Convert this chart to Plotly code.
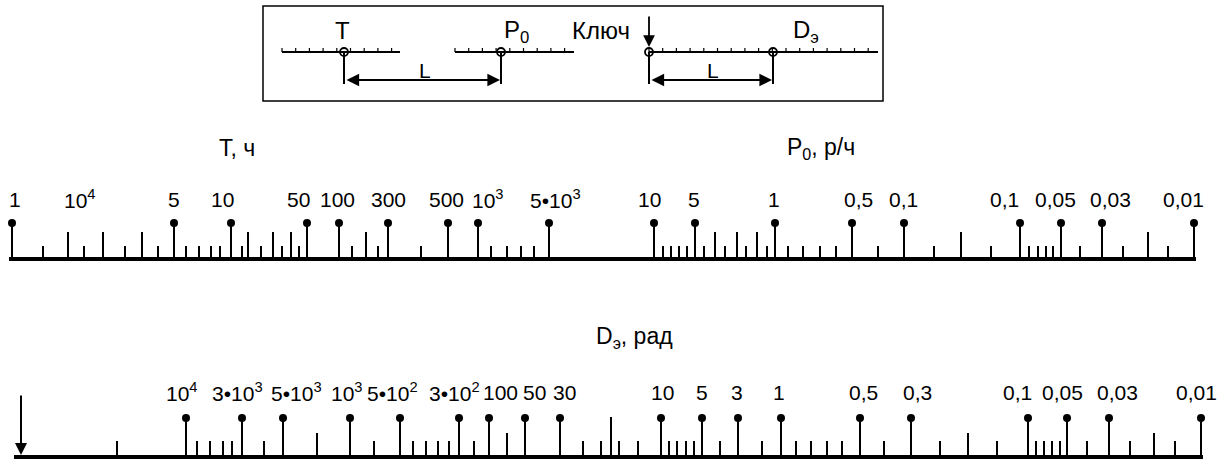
import plotly.graph_objects as go
import numpy as np

W, H = 1217, 459
FONT = "Liberation Sans, Arial, sans-serif"

# ---------------- data: scale positions (along the nomogram line) and labels ----------------
# top row : T scale (hours) followed by P0 scale (р/ч)
top_major_pos = [12, 174, 231, 307, 339, 388, 448, 478, 549,
                 654, 695, 775, 852, 904, 1020, 1061, 1102, 1194]
top_major_lbl = ["1", "5", "10", "50", "100", "300", "500", "10<sup>3</sup>", "5•10<sup>3</sup>",
                 "10", "5", "1", "0,5", "0,1", "0,1", "0,05", "0,03", "0,01"]
top_tall_pos = [68, 103, 142, 248, 273, 291, 366, 715, 737, 757, 961, 1148]
top_tall_lbl_pos = [68]
top_tall_lbl = ["10<sup>4</sup>"]
top_short_pos = [43, 84, 125, 158, 186, 199, 211, 220, 242, 261, 282, 299, 352, 378,
                 421, 491, 507, 521, 534, 663, 671, 679, 687, 704, 725, 746, 767, 788,
                 803, 820, 836, 878, 934, 991, 1029, 1038, 1046, 1053, 1080, 1123, 1168]

# bottom row : Dэ scale (рад)
bot_major_pos = [186, 242, 283, 350, 400, 459, 489, 525, 560,
                 661, 702, 738, 781, 860, 911, 1028, 1067, 1109, 1201]
bot_major_lbl = ["10<sup>4</sup>", "3•10<sup>3</sup>", "5•10<sup>3</sup>", "10<sup>3</sup>",
                 "5•10<sup>2</sup>", "3•10<sup>2</sup>", "100", "50", "30",
                 "10", "5", "3", "1", "0,5", "0,3", "0,1", "0,05", "0,03", "0,01"]
bot_tall_pos = [317, 507, 968, 1154]
bot_xtall_pos = [611]
bot_short_pos = [117, 197, 210, 223, 232, 264, 374, 413, 426, 438, 449, 474, 583, 601,
                 619, 638, 669, 677, 686, 694, 720, 762, 796, 811, 827, 842, 884, 940,
                 997, 1036, 1044, 1052, 1060, 1087, 1130, 1175]
key_pos = [21]

# ---------------- layout constants (label nudges, row geometry) ----------------
top_lbl_dx = [3, 0, -9, -9, -2, 0, -2, 10, 6, -5, -1, -1, 6, -1, -16, -6, 8, -11]
top_tall_lbl_dx = [12]
bot_lbl_dx = [-4, -5, 13, -3, -8, -5, 11, 9, 4, 1, 0, -1, -2, 3, 6, -11, -5, 8, -5]

TOP = dict(base=259, short=246, tall=232, major=223, lbl=199, x0=9, x1=1196)
BOT = dict(base=457, short=441, tall=433, major=418, lbl=392, x0=14, x1=1203)


def stems(pos, y0, y1):
    xs, ys = [], []
    for p in pos:
        xs += [p, p, None]
        ys += [y0, y1, None]
    return xs, ys


fig = go.Figure()
line_style = dict(color="black", width=2)


def add_row(R, major, tall, short, xtall=()):
    fig.add_trace(go.Scatter(x=[R["x0"], R["x1"]], y=[R["base"], R["base"]], mode="lines",
                             line=dict(color="black", width=4), hoverinfo="skip"))
    for pos, top in ((short, R["short"]), (tall, R["tall"]), (list(xtall), R["major"] - 1),
                     (major, R["major"])):
        if not pos:
            continue
        xs, ys = stems(pos, R["base"], top)
        fig.add_trace(go.Scatter(x=xs, y=ys, mode="lines", line=line_style, hoverinfo="skip"))
    fig.add_trace(go.Scatter(x=major, y=[R["major"]] * len(major), mode="markers",
                             marker=dict(color="black", size=8), hoverinfo="skip"))


add_row(TOP, top_major_pos, top_tall_pos, top_short_pos)
add_row(BOT, bot_major_pos, bot_tall_pos, bot_short_pos, bot_xtall_pos)

ann = []


def label(x, y, text, size=21, xanchor="center"):
    ann.append(dict(x=x, y=y, text=text, showarrow=False, xanchor=xanchor, yanchor="middle",
                    font=dict(family=FONT, size=size, color="black")))


for p, t, d in zip(top_major_pos, top_major_lbl, top_lbl_dx):
    label(p + d, TOP["lbl"], t)
for p, t, d in zip(top_tall_lbl_pos, top_tall_lbl, top_tall_lbl_dx):
    label(p + d, TOP["lbl"], t)
for p, t, d in zip(bot_major_pos, bot_major_lbl, bot_lbl_dx):
    label(p + d, BOT["lbl"], t)

# scale titles
label(237, 148, "T, ч", 23)
label(821, 148, "P<sub>0</sub>, р/ч", 23)
label(634, 337, "D<sub>э</sub>, рад", 23)

# key arrow on the Dэ scale
for k in key_pos:
    ann.append(dict(x=k, y=BOT["base"] - 2, ax=k, ay=394, axref="x", ayref="y", xref="x", yref="y",
                    showarrow=True, arrowhead=2, arrowsize=1.2, arrowwidth=2, arrowcolor="black",
                    standoff=0, text=""))

# ---------------- explanatory inset (schematic) ----------------
shapes = [dict(type="rect", x0=263, x1=883, y0=6, y1=101, xref="x", yref="y",
               line=dict(color="black", width=1.5))]
for x0, x1 in ((282, 400), (455, 574), (649, 878)):
    shapes.append(dict(type="line", x0=x0, x1=x1, y0=52, y1=52, xref="x", yref="y",
                       line=dict(color="black", width=2)))
    for tx in np.arange(x0, x1 + 1, 13.7):
        shapes.append(dict(type="line", x0=tx, x1=tx, y0=48, y1=52, xref="x", yref="y",
                           line=dict(color="black", width=1.2)))
for cx in (344, 501, 649, 773):
    shapes.append(dict(type="line", x0=cx, x1=cx, y0=52, y1=84, xref="x", yref="y",
                       line=dict(color="black", width=2)))
fig.add_trace(go.Scatter(x=[344, 501, 649, 773], y=[52] * 4, mode="markers",
                         marker=dict(size=8, color="white", line=dict(color="black", width=1.8)),
                         hoverinfo="skip"))
for a, b in ((344, 501), (649, 773)):
    ann.append(dict(x=b - 1, y=80, ax=a + 1, ay=80, axref="x", ayref="y", xref="x", yref="y",
                    showarrow=True, arrowhead=2, startarrowhead=2, arrowside="end+start",
                    arrowsize=1.4, startarrowsize=1.4, arrowwidth=1.8, arrowcolor="black",
                    standoff=0, startstandoff=0, text=""))
ann.append(dict(x=649, y=47, ax=649, ay=15, axref="x", ayref="y", xref="x", yref="y",
                showarrow=True, arrowhead=2, arrowsize=1.3, arrowwidth=1.8, arrowcolor="black",
                standoff=0, text=""))
label(342, 30, "T", 24)
label(516, 31, "P<sub>0</sub>", 24)
label(601, 30, "Ключ", 24)
label(806, 31, "D<sub>э</sub>", 24)
label(425, 70, "L", 21)
label(713, 70, "L", 21)

fig.update_layout(
    width=W, height=H, margin=dict(l=0, r=0, t=0, b=0),
    paper_bgcolor="white", plot_bgcolor="white", showlegend=False,
    xaxis=dict(range=[0, W], visible=False, fixedrange=True),
    yaxis=dict(range=[H, 0], visible=False, fixedrange=True),
    shapes=shapes, annotations=ann,
)
fig.write_html("out.html")
